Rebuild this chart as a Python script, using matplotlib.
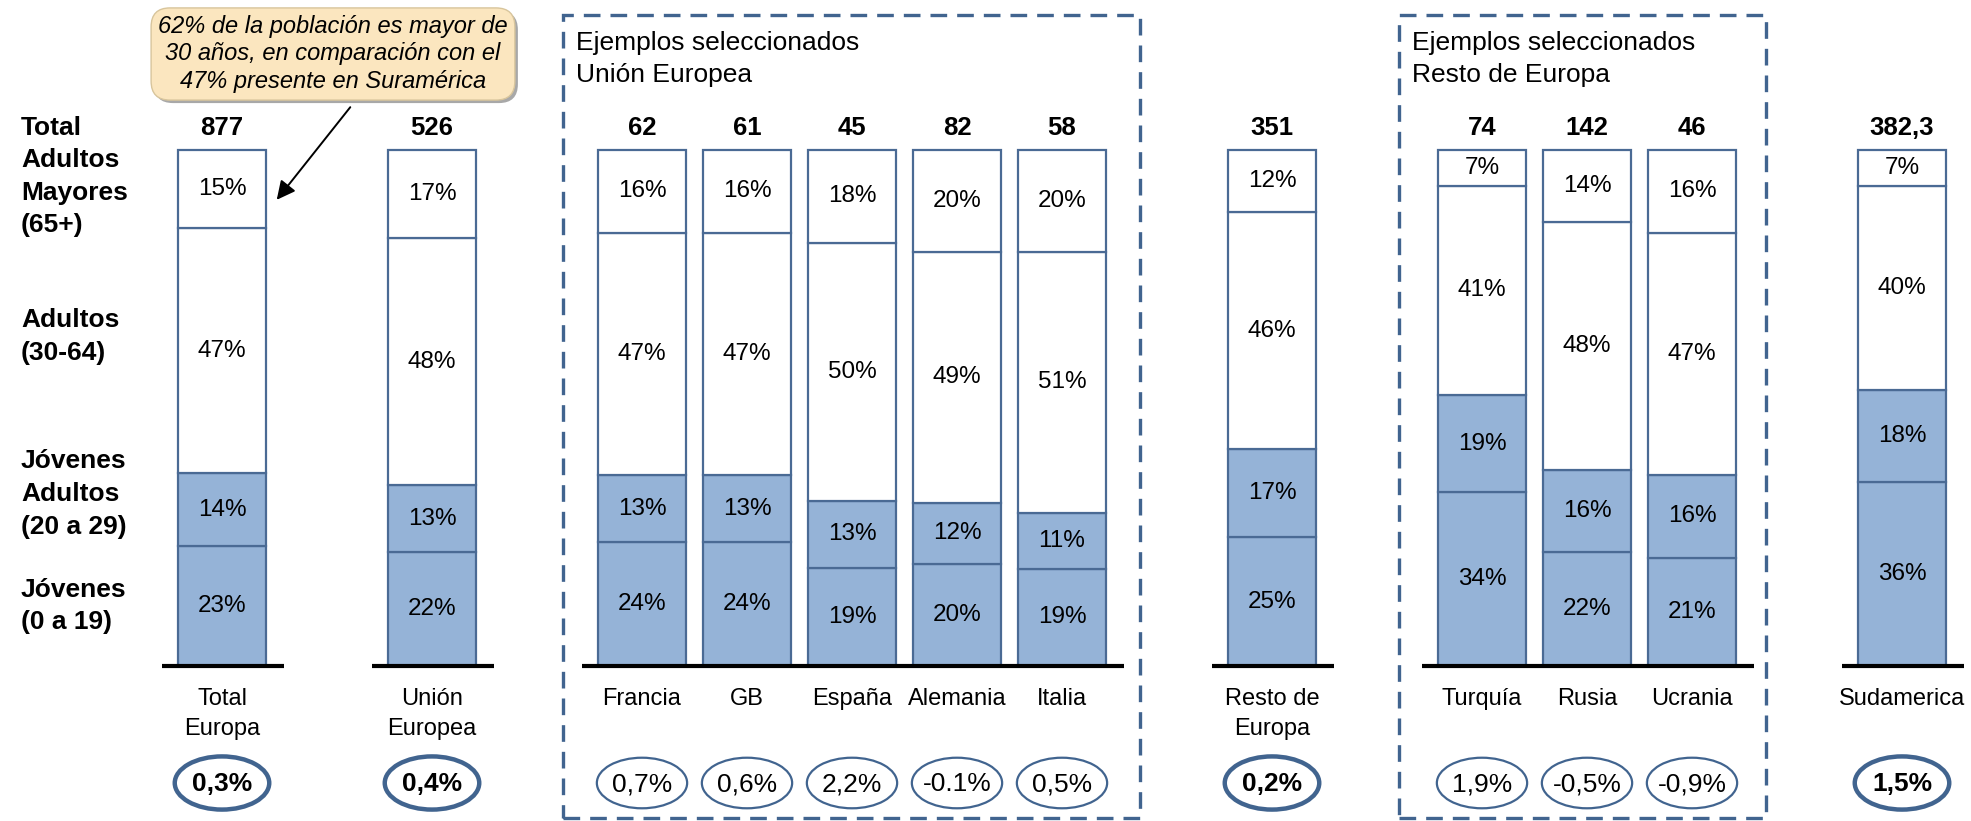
import matplotlib
matplotlib.use("Agg")
import matplotlib.pyplot as plt
from matplotlib.patches import Ellipse, Rectangle
from matplotlib.transforms import offset_copy

plt.rcParams["font.family"] = ["Liberation Sans", "DejaVu Sans"]

# --- data ---
categories = ["Total\nEuropa", "Unión\nEuropea", "Francia", "GB", "España", "Alemania",
              "Italia", "Resto de\nEuropa", "Turquía", "Rusia", "Ucrania", "Sudamerica"]
slots = [0, 2, 4, 5, 6, 7, 8, 10, 12, 13, 14, 16]
jovenes = [23, 22, 24, 24, 19, 20, 19, 25, 34, 22, 21, 36]          # 0 a 19
jovenes_adultos = [14, 13, 13, 13, 13, 12, 11, 17, 19, 16, 16, 18]  # 20 a 29
adultos = [47, 48, 47, 47, 50, 49, 51, 46, 41, 48, 47, 40]          # 30-64
mayores = [15, 17, 16, 16, 18, 20, 20, 12, 7, 14, 16, 7]            # 65+
totales = ["877", "526", "62", "61", "45", "82", "58", "351", "74", "142", "46", "382,3"]
crecimiento = ["0,3%", "0,4%", "0,7%", "0,6%", "2,2%", "-0.1%", "0,5%", "0,2%",
               "1,9%", "-0,5%", "-0,9%", "1,5%"]
destacado = [True, True, False, False, False, False, False, True, False, False, False, True]
grupos = [[0], [2], [4, 5, 6, 7, 8], [10], [12, 13, 14], [16]]

row_labels = ["Total\nAdultos\nMayores\n(65+)", "Adultos\n(30-64)",
              "Jóvenes\nAdultos\n(20 a 29)", "Jóvenes\n(0 a 19)"]

FILL = "#95B3D7"
EDGE = "#4A6A94"
BOX = "#41648F"

fig = plt.figure(figsize=(19.71, 8.21), dpi=100)
ax = fig.add_axes([0, 0, 1, 1])


# layout helpers: pixel position -> data units
def px_x(p):
    return (p - 222) / 105


def px_y(p):
    return (666 - p) / 5.16


ax.set_xlim(px_x(0), px_x(1971))
ax.set_ylim(px_y(821), px_y(0))
ax.set_axis_off()

# --- stacked bars, each normalised to 100 ---
series = [(jovenes, FILL), (jovenes_adultos, FILL), (adultos, "white"), (mayores, "white")]
sums = [sum(v) for v in zip(jovenes, jovenes_adultos, adultos, mayores)]
bottom = [0.0] * len(slots)
for vals, col in series:
    h = [v / s * 100 for v, s in zip(vals, sums)]
    ax.bar(slots, h, bottom=bottom, width=0.83, color=col, edgecolor=EDGE, linewidth=1.6, zorder=2)
    for x, b, hh, v in zip(slots, bottom, h, vals):
        ax.text(x, b + hh / 2, f"{v}%", ha="center", va="center", fontsize=17.5, zorder=3)
    bottom = [b + hh for b, hh in zip(bottom, h)]

# totals above bars
for x, t in zip(slots, totales):
    ax.text(x, px_y(128), t, ha="center", va="center", fontsize=18.5, fontweight="bold")

# baselines per group
for g in grupos:
    ax.plot([g[0] - 0.57, g[-1] + 0.59], [0, 0], color="black", lw=3, zorder=4,
            solid_capstyle="butt")

# category labels and growth ellipses
for x, name, gr, hi in zip(slots, categories, crecimiento, destacado):
    ax.text(x, px_y(688), name, ha="center", va="top", fontsize=17, linespacing=1.45)
    w, h, lw = (0.9, 10.3, 3.2) if hi else (0.86, 9.8, 1.6)
    ax.add_patch(Ellipse((x, px_y(783)), w, h, facecolor="white", edgecolor=BOX, lw=lw, zorder=3))
    ax.text(x, px_y(784), gr, ha="center", va="center", fontsize=19,
            fontweight="bold" if hi else "normal", zorder=4)

# row labels on the left
for lab, yc in zip(row_labels, [176.5, 336.5, 494, 606]):
    ax.text(px_x(21), px_y(yc), lab, ha="left", va="center", fontsize=19,
            fontweight="bold", linespacing=1.45)

# dashed group boxes
for x0, x1, title in [(563, 1140, "Ejemplos seleccionados\nUnión Europea"),
                      (1399, 1766, "Ejemplos seleccionados\nResto de Europa")]:
    ax.add_patch(Rectangle((px_x(x0), px_y(818)), px_x(x1) - px_x(x0), px_y(15) - px_y(818),
                           fill=False, edgecolor=BOX, lw=2.4, linestyle=(0, (5, 3)), zorder=1))
    ax.text(px_x(x0 + 13), px_y(59), title, ha="left", va="center", fontsize=19,
            linespacing=1.4)

# callout
note = "62% de la población es mayor de\n30 años, en comparación con el\n47% presente en Suramérica"
shadow = offset_copy(ax.transData, fig=fig, x=3, y=-3, units="dots")
ax.text(px_x(333), px_y(54), note, ha="center", va="center", fontsize=17, style="italic",
        color="none", transform=shadow, zorder=5, linespacing=1.25,
        bbox=dict(boxstyle="round,pad=0.3,rounding_size=0.8", fc="#A8A8A8", ec="none"))
ax.text(px_x(333), px_y(54), note, ha="center", va="center", fontsize=17, style="italic",
        zorder=6, linespacing=1.25,
        bbox=dict(boxstyle="round,pad=0.3,rounding_size=0.8", fc="#FBE6BF",
                  ec="#D8C59C", lw=1))
ax.annotate("", xy=(px_x(275), px_y(202)), xytext=(px_x(352), px_y(105)),
            arrowprops=dict(arrowstyle="-|>", color="black", lw=1.4, mutation_scale=28),
            zorder=4)

fig.savefig("out.png", dpi=100)
